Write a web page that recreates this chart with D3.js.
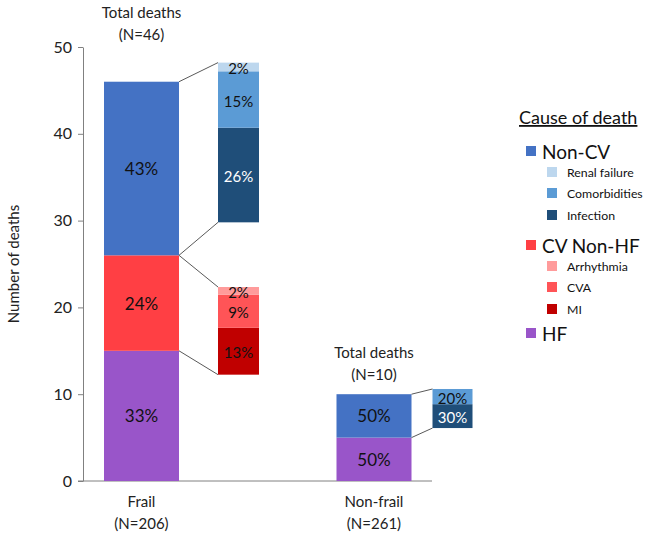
<!DOCTYPE html>
<html>
<head>
<meta charset="utf-8">
<script src="https://cdn.jsdelivr.net/npm/d3@7"></script>
<style>
  html, body { margin: 0; padding: 0; background: #fff; }
  svg text { font-family: Lato, "Open Sans", sans-serif; }
</style>
</head>
<body>
<svg id="chart" width="645" height="533"></svg>
<script>
// ---- data ----
const categories = ["Frail", "Non-frail"];
const categoryN = ["(N=206)", "(N=261)"];
const totalLabels = ["(N=46)", "(N=10)"];
const yTicks = [0, 10, 20, 30, 40, 50];

// main stacked bars (deaths), bottom to top: HF, CV Non-HF, Non-CV
const mainKeys = ["HF", "CV Non-HF", "Non-CV"];
const hfDeaths = [15, 5];
const cvNonHfDeaths = [11, 0];
const nonCvDeaths = [20, 5];
const hfPct = ["33%", "50%"];
const cvNonHfPct = ["24%", ""];
const nonCvPct = ["43%", "50%"];

// breakdown bars, bottom to top
const frailNonCvBase = 29.8;
const frailNonCvParts = [10.9, 6.5, 1.0];      // Infection, Comorbidities, Renal failure
const frailNonCvLabels = ["26%", "15%", "2%"];
const frailCvBase = 12.25;
const frailCvParts = [5.4, 3.8, 0.9];          // MI, CVA, Arrhythmia
const frailCvLabels = ["13%", "9%", "2%"];
const nonfrailNonCvBase = 6.1;
const nonfrailNonCvParts = [2.75, 1.75];       // Infection, Comorbidities
const nonfrailNonCvLabels = ["30%", "20%"];

// ---- styles ----
const colors = {
  "HF": "#9955C9", "CV Non-HF": "#FF3F44", "Non-CV": "#4472C4",
  "Renal failure": "#BDD7EE", "Comorbidities": "#5B9BD5", "Infection": "#1F4E79",
  "Arrhythmia": "#FF9B9B", "CVA": "#FF5457", "MI": "#C00000"
};

const svg = d3.select("#chart");
const y = d3.scaleLinear().domain([0, 50]).range([481, 47]);
const x = d3.scaleBand().domain(categories).range([104, 411.5]).paddingInner(0.6774).paddingOuter(0);
const bw = x.bandwidth();

// axes
const yAxis = d3.axisLeft(y).tickValues(yTicks).tickSize(5).tickSizeOuter(0).tickPadding(6);
const gy = svg.append("g").attr("transform", "translate(83,0)").call(yAxis);
gy.select(".domain").attr("stroke", "#808080");
gy.selectAll(".tick line").attr("stroke", "#808080");
gy.selectAll(".tick text").attr("font-size", 16).attr("fill", "#222").style("font-family", "Lato, sans-serif");

svg.append("line").attr("x1", 78).attr("x2", 432).attr("y1", y(0)).attr("y2", y(0))
  .attr("stroke", "#808080");

svg.append("text").attr("transform", `translate(13,${(y(0)+y(50))/2}) rotate(-90)`)
  .attr("text-anchor", "middle").attr("dominant-baseline", "central")
  .attr("font-size", 15).attr("fill", "#222").text("Number of deaths");

// x labels
categories.forEach((c, i) => {
  const cx = x(c) + bw / 2;
  svg.append("text").attr("x", cx).attr("y", 507).attr("text-anchor", "middle")
    .attr("font-size", 15).attr("fill", "#222").text(c);
  svg.append("text").attr("x", cx).attr("y", 529).attr("text-anchor", "middle")
    .attr("font-size", 15).attr("fill", "#222").text(categoryN[i]);
});

// main stacked bars
const mainRows = categories.map((c, i) => ({ cat: c, "HF": hfDeaths[i], "CV Non-HF": cvNonHfDeaths[i], "Non-CV": nonCvDeaths[i] }));
const mainLabels = { "HF": hfPct, "CV Non-HF": cvNonHfPct, "Non-CV": nonCvPct };
const stacked = d3.stack().keys(mainKeys)(mainRows);
stacked.forEach(layer => {
  layer.forEach((d, i) => {
    if (d[1] - d[0] <= 0) return;
    const cat = categories[i];
    svg.append("rect").attr("x", x(cat)).attr("width", bw)
      .attr("y", y(d[1])).attr("height", y(d[0]) - y(d[1]))
      .attr("fill", colors[layer.key]);
    svg.append("text").attr("x", x(cat) + bw / 2).attr("y", (y(d[0]) + y(d[1])) / 2)
      .attr("text-anchor", "middle").attr("dominant-baseline", "central")
      .attr("font-size", 17).attr("fill", "#111").text(mainLabels[layer.key][i]);
  });
});

// totals above bars
categories.forEach((c, i) => {
  const cx = x(c) + bw / 2;
  const ty = i === 0 ? 18 : 358;
  svg.append("text").attr("x", cx).attr("y", ty).attr("text-anchor", "middle")
    .attr("font-size", 15).attr("fill", "#222").text("Total deaths");
  svg.append("text").attr("x", cx).attr("y", ty + 22).attr("text-anchor", "middle")
    .attr("font-size", 15).attr("fill", "#222").text(totalLabels[i]);
});

// breakdown bars
function breakdown(base, parts, keys, labels, textColors, bx, width, fromX, fromTop, fromBottom) {
  let acc = base;
  parts.forEach((v, j) => {
    const y0 = y(acc), y1 = y(acc + v);
    svg.append("rect").attr("x", bx).attr("width", width).attr("y", y1).attr("height", y0 - y1)
      .attr("fill", colors[keys[j]]);
    svg.append("text").attr("x", bx + width / 2).attr("y", (y0 + y1) / 2 + 1)
      .attr("text-anchor", "middle").attr("dominant-baseline", "central")
      .attr("font-size", 15).attr("fill", textColors[j]).text(labels[j]);
    acc += v;
  });
  svg.append("line").attr("x1", fromX).attr("y1", y(fromTop)).attr("x2", bx).attr("y2", y(acc))
    .attr("stroke", "#595959").attr("stroke-width", 1);
  svg.append("line").attr("x1", fromX).attr("y1", y(fromBottom)).attr("x2", bx).attr("y2", y(base))
    .attr("stroke", "#595959").attr("stroke-width", 1);
}
const frailRight = x("Frail") + bw;
const nonfrailRight = x("Non-frail") + bw;
breakdown(frailNonCvBase, frailNonCvParts, ["Infection", "Comorbidities", "Renal failure"], frailNonCvLabels,
  ["#fff", "#111", "#111"], frailRight + 39, 41, frailRight,
  hfDeaths[0] + cvNonHfDeaths[0] + nonCvDeaths[0], hfDeaths[0] + cvNonHfDeaths[0]);
breakdown(frailCvBase, frailCvParts, ["MI", "CVA", "Arrhythmia"], frailCvLabels,
  ["#111", "#111", "#111"], frailRight + 39, 41, frailRight,
  hfDeaths[0] + cvNonHfDeaths[0], hfDeaths[0]);
breakdown(nonfrailNonCvBase, nonfrailNonCvParts, ["Infection", "Comorbidities"], nonfrailNonCvLabels,
  ["#fff", "#111"], nonfrailRight + 21, 40, nonfrailRight,
  hfDeaths[1] + cvNonHfDeaths[1] + nonCvDeaths[1], hfDeaths[1] + cvNonHfDeaths[1]);

// legend
const legend = svg.append("g");
legend.append("text").attr("x", 519).attr("y", 124).attr("font-size", 18).attr("fill", "#111")
  .attr("text-decoration", "underline").text("Cause of death");
const legendItems = [
  { key: "Non-CV", level: 0, y: 151 },
  { key: "Renal failure", level: 1, y: 172 },
  { key: "Comorbidities", level: 1, y: 193 },
  { key: "Infection", level: 1, y: 215 },
  { key: "CV Non-HF", level: 0, y: 245 },
  { key: "Arrhythmia", level: 1, y: 266 },
  { key: "CVA", level: 1, y: 287 },
  { key: "MI", level: 1, y: 309 },
  { key: "HF", level: 0, y: 333 }
];
legendItems.forEach(it => {
  const sx = it.level === 0 ? 526 : 547;
  const tx = it.level === 0 ? 542 : 567;
  legend.append("rect").attr("x", sx).attr("y", it.y - 5).attr("width", 10).attr("height", 10)
    .attr("fill", colors[it.key]);
  legend.append("text").attr("x", tx).attr("y", it.y).attr("dominant-baseline", "central")
    .attr("font-size", it.level === 0 ? 19 : 12.3).attr("fill", "#111").text(it.key);
});
</script>
</body>
</html>
